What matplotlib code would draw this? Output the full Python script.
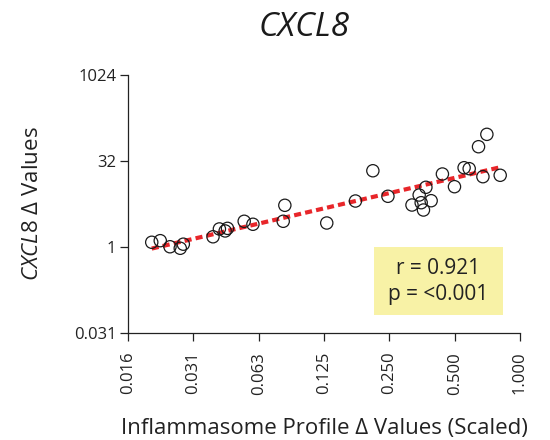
import numpy as np
import matplotlib
matplotlib.use("Agg")
import matplotlib.pyplot as plt
from matplotlib.patches import Rectangle

plt.rcParams["font.family"] = ["Open Sans", "DejaVu Sans"]
plt.rcParams["mathtext.fontset"] = "custom"
plt.rcParams["mathtext.rm"] = "Open Sans"
plt.rcParams["mathtext.it"] = "Open Sans:italic"

# values (both axes log2)
profile = [0.0201, 0.0220, 0.0244, 0.0272, 0.0281, 0.0385, 0.0412, 0.0438,
           0.0449, 0.0536, 0.0588, 0.0811, 0.0825, 0.1287, 0.1745, 0.2099,
           0.2463, 0.3179, 0.3431, 0.3505, 0.3591, 0.3684, 0.3896, 0.4390,
           0.4990, 0.5526, 0.5833, 0.6440, 0.7036, 0.6747, 0.8105]
cxcl8 = [1.21, 1.29, 1.01, 0.95, 1.12, 1.51, 2.07, 1.91,
         2.12, 2.82, 2.50, 2.82, 5.37, 2.63, 6.38, 21.6,
         7.72, 5.43, 8.13, 5.96, 4.44, 11.09, 6.46, 18.95,
         11.36, 24.4, 23.5, 56.9, 93.7, 17.0, 18.0]

x_ticks = [2**-6, 2**-5, 2**-4, 2**-3, 2**-2, 2**-1, 1.0]
x_ticklabels = ["0.016", "0.031", "0.063", "0.125", "0.250", "0.500", "1.000"]
y_ticks = [2**-5, 1, 32, 1024]
y_ticklabels = ["0.031", "1", "32", "1024"]
stats_text = "r = 0.921\np = <0.001"

fig = plt.figure(figsize=(5.5, 4.4), dpi=100)
ax = fig.add_axes([128 / 550, 1 - 333 / 440, 392 / 550, 258 / 440])

ax.set_xscale("log", base=2)
ax.set_yscale("log", base=2)

# regression line in log2 space
lx = np.log2(profile)
ly = np.log2(cxcl8)
slope, icpt = np.polyfit(lx, ly, 1)
xs = np.linspace(lx.min(), lx.max(), 50)
ax.plot(2**xs, 2**(icpt + slope * xs), color="#e8262a", lw=3.0,
        dashes=(1.7, 1.0), zorder=2, solid_capstyle="butt")

ax.scatter(profile, cxcl8, s=78, facecolors="none", edgecolors="#1a1a1a",
           linewidths=0.9, zorder=3)

ax.set_xlim(2**-6, 1.0)
ax.set_ylim(2**-5, 1024)
ax.set_xticks(x_ticks)
ax.set_xticklabels(x_ticklabels, rotation=90)
ax.set_yticks(y_ticks)
ax.set_yticklabels(y_ticklabels)
ax.minorticks_off()
ax.tick_params(axis="both", direction="out", length=5.5, width=0.9,
               labelsize=12, colors="#222222")
ax.tick_params(axis="x", pad=8)
ax.tick_params(axis="y", pad=3)
for side in ("top", "right"):
    ax.spines[side].set_visible(False)
for side in ("left", "bottom"):
    ax.spines[side].set_linewidth(0.9)
    ax.spines[side].set_color("#222222")

ax.set_xlabel("Inflammasome Profile \u0394 Values (Scaled)", fontsize=16,
              color="#222222", labelpad=17)
ax.set_ylabel("$\\it{CXCL8}$ \u0394 Values", fontsize=16, color="#222222",
              labelpad=22)

# stats box
ax.add_patch(Rectangle((0.628, 0.07), 0.328, 0.263, transform=ax.transAxes,
                       facecolor="#f8f2a6", edgecolor="none", zorder=1))
ax.text(0.792, 0.2, stats_text, transform=ax.transAxes, ha="center",
        va="center", fontsize=15, color="#222222", linespacing=1.3, zorder=4)

fig.text(304 / 550, 1 - 28 / 440, "CXCL8", ha="center", va="center",
         fontsize=24, style="italic", color="#1a1a1a")

fig.savefig("out.png", dpi=100)
